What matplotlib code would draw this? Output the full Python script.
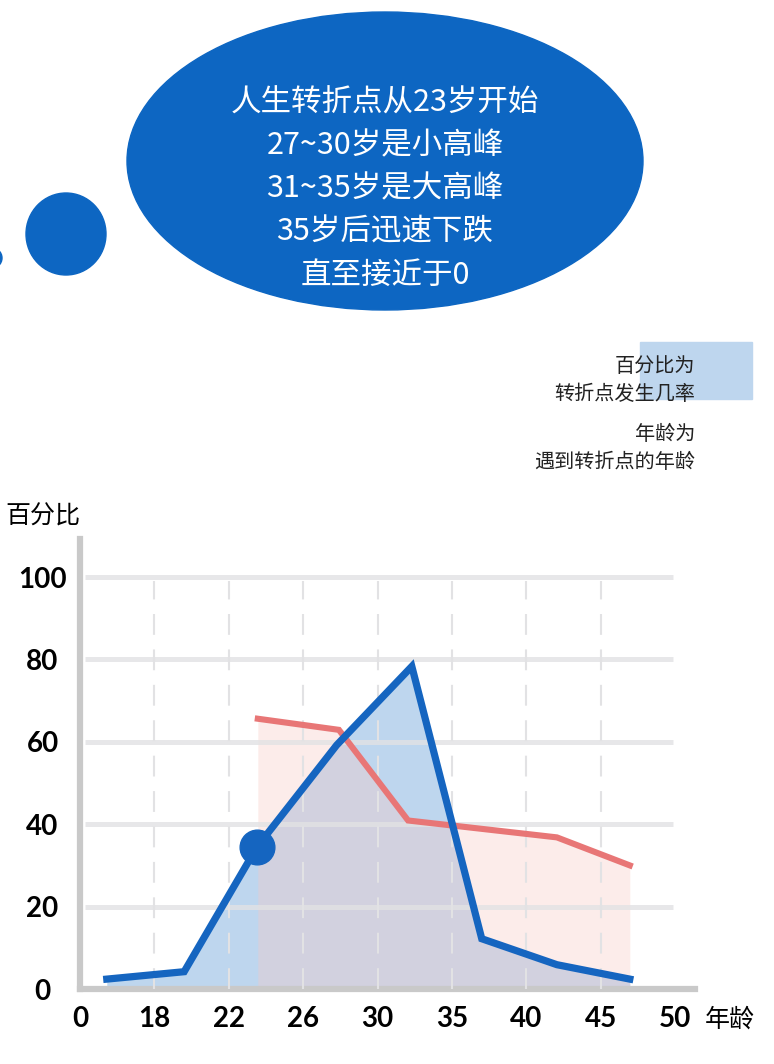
import matplotlib
matplotlib.use("Agg")
import matplotlib.pyplot as plt
import matplotlib.patches as patches

plt.rcParams['font.family'] = ['Noto Sans CJK SC', 'DejaVu Sans']

# x positions are in tick-slot units (slot i sits under tick label i)
age_labels = ['0', '18', '22', '26', '30', '35', '40', '45', '50']
pct_ticks = [0, 20, 40, 60, 80, 100]

blue_x = [0.36, 1.40, 2.38, 3.45, 4.46, 5.40, 6.41, 7.39]
blue_y = [2.4, 4.2, 34.5, 59.2, 78.3, 12.2, 5.9, 2.4]

red_x = [2.39, 3.48, 4.41, 6.41, 7.39]
red_y = [65.6, 62.9, 40.9, 36.8, 30.0]

marker_idx = 2

bubble_lines = ['人生转折点从23岁开始', '27~30岁是小高峰', '31~35岁是大高峰',
                '35岁后迅速下跌', '直至接近于0']
note_lines = ['百分比为', '转折点发生几率', '年龄为', '遇到转折点的年龄']

BLUE = '#1565c0'
BUBBLE = '#0d66c2'
RED = '#e87676'
LIGHT_BLUE = '#bed6ee'
GRID = '#e2e2e4'
SPINE = '#c9c9c9'

W, H = 774, 1064
fig = plt.figure(figsize=(W / 100, H / 100), dpi=100)

# background layer in pixel coordinates for the bubbles and the note
bg = fig.add_axes([0, 0, 1, 1])
bg.set_xlim(0, W)
bg.set_ylim(H, 0)
bg.axis('off')
bg.add_patch(patches.Ellipse((385, 161), 516, 298, color=BUBBLE))
bg.add_patch(patches.Ellipse((66, 234), 80, 82, color=BUBBLE))
bg.add_patch(patches.Ellipse((-10, 258), 24, 22, color=BUBBLE))
for i, line in enumerate(bubble_lines):
    bg.text(385, 103 + i * 43, line, color='white', fontsize=22,
            ha='center', va='center')

bg.add_patch(patches.Rectangle((640, 342), 112, 57, color=LIGHT_BLUE))
note_y = [367, 394, 435, 462]
for txt, y in zip(note_lines, note_y):
    bg.text(695, y, txt, fontsize=14.5, ha='right', va='center', color='#222222')

# chart axes: left spine at x=80px, bottom at y=989px
x0, y0, x1, y1 = 80, 989, 695, 539
ax = fig.add_axes([x0 / W, (H - y0) / H, (x1 - x0) / W, (y0 - y1) / H])
ax.set_xlim(0, (x1 - x0) / 74.4)
ax.set_ylim(0, (y0 - y1) / 4.12)
ax.patch.set_alpha(0)

ax.fill_between(blue_x, blue_y, 0, color=LIGHT_BLUE, lw=0, zorder=1)
ax.fill_between(red_x, red_y, 0, color=(249 / 255, 201 / 255, 195 / 255),
                alpha=0.35, lw=0, zorder=2)

ax.hlines(pct_ticks[1:], 0.07, 7.97, color=GRID, lw=3.6, alpha=0.8, zorder=3)
ax.vlines(range(1, 8), 0, 99, color=GRID, lw=1.5, linestyles=(0, (10, 7)),
          zorder=3)

ax.plot(red_x, red_y, color=RED, lw=4.4, solid_joinstyle='miter', zorder=4)
ax.plot(blue_x, blue_y, color=BLUE, lw=5.2, solid_joinstyle='miter', zorder=5)
ax.plot(blue_x[marker_idx], blue_y[marker_idx], 'o', color=BLUE,
        markersize=25, zorder=6)

for side in ['top', 'right']:
    ax.spines[side].set_visible(False)
for side in ['left', 'bottom']:
    ax.spines[side].set_color(SPINE)
    ax.spines[side].set_linewidth(4.5)

digit_font = ['Lato', 'DejaVu Sans']
ax.set_xticks(range(len(age_labels)))
ax.set_xticklabels(age_labels, fontsize=20, fontweight='bold', family=digit_font)
ax.set_yticks(pct_ticks)
ax.set_yticklabels([str(v) for v in pct_ticks], fontsize=20, family=digit_font,
                   fontweight='bold', ha='center')
ax.tick_params(axis='both', length=0)
ax.tick_params(axis='y', pad=27)
ax.tick_params(axis='x', pad=12)

ax.text((730 - x0) / (x1 - x0), (y0 - 1020) / (y0 - y1), '年龄', fontsize=18,
        ha='center', va='center', transform=ax.transAxes)
ax.text((43 - x0) / (x1 - x0), (y0 - 517) / (y0 - y1), '百分比', fontsize=18,
        ha='center', va='center', transform=ax.transAxes)

fig.savefig('out.png', dpi=100)
